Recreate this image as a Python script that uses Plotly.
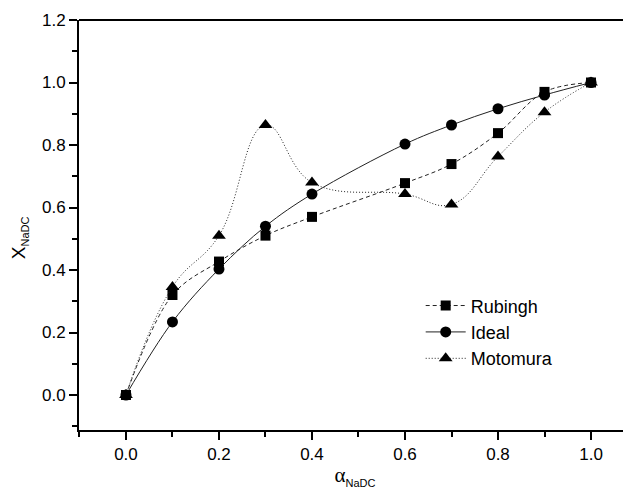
import plotly.graph_objects as go

alpha = [0.0, 0.1, 0.2, 0.3, 0.4, 0.6, 0.7, 0.8, 0.9, 1.0]
rubingh = [0.0, 0.32, 0.427, 0.51, 0.57, 0.678, 0.739, 0.838, 0.97, 1.0]
ideal = [0.0, 0.234, 0.403, 0.54, 0.643, 0.803, 0.864, 0.916, 0.96, 1.0]
motomura = [0.0, 0.346, 0.51, 0.864, 0.68, 0.643, 0.61, 0.763, 0.905, 1.0]

x_tickvals = [0.0, 0.2, 0.4, 0.6, 0.8, 1.0]
y_tickvals = [0.0, 0.2, 0.4, 0.6, 0.8, 1.0, 1.2]

FONT = "Liberation Sans, Arial, sans-serif"

fig = go.Figure()
fig.add_trace(go.Scatter(
    x=alpha, y=rubingh, name="Rubingh", mode="lines+markers",
    line=dict(color="#222", width=1, dash="4px,3px", shape="spline", smoothing=1.0),
    marker=dict(symbol="square", size=10, color="black"),
))
fig.add_trace(go.Scatter(
    x=alpha, y=ideal, name="Ideal", mode="lines+markers",
    line=dict(color="#222", width=1, shape="spline", smoothing=1.0),
    marker=dict(symbol="circle", size=11, color="black"),
))
fig.add_trace(go.Scatter(
    x=alpha, y=motomura, name="Motomura", mode="lines+markers",
    line=dict(color="#222", width=1, dash="1px,2px", shape="spline", smoothing=1.2),
    marker=dict(symbol="triangle-up", size=12, color="black"),
))

axis_common = dict(
    showgrid=False, zeroline=False, showline=True, linecolor="black", linewidth=2,
    ticks="outside", ticklen=8, tickwidth=2, tickcolor="black",
    tickfont=dict(family=FONT, size=17, color="black"),
    mirror=False, automargin=False,
)

fig.update_xaxes(
    range=[-0.101, 1.086], tickvals=x_tickvals, ticktext=[f"{v:.1f}" for v in x_tickvals],
    minor=dict(dtick=0.1, tick0=0, ticks="outside", ticklen=5, tickwidth=2, tickcolor="black"),
    title=dict(text="<span style=\"font-family:Liberation Serif\">α</span>"
                    "<sub><span style=\"font-size:11px\">NaDC</span></sub>",
               font=dict(family=FONT, size=21, color="black"), standoff=4),
    **axis_common,
)
fig.update_yaxes(
    range=[-0.112, 1.2], tickvals=y_tickvals, ticktext=[f"{v:.1f}" for v in y_tickvals],
    minor=dict(dtick=0.1, tick0=0, ticks="outside", ticklen=5, tickwidth=2, tickcolor="black"),
    **axis_common,
)

# y-axis title placed as a rotated annotation (sits a little below the axis centre)
fig.add_annotation(
    text="X<sub><span style=\"font-size:11px\">NaDC</span></sub>",
    xref="paper", yref="paper", x=-0.109, y=0.47, xanchor="center", yanchor="middle",
    textangle=-90, showarrow=False,
    font=dict(family=FONT, size=19, color="black"),
)

fig.add_shape(type="line", xref="paper", yref="paper", x0=0, x1=1, y0=1, y1=1,
              line=dict(color="black", width=2))

# page body has an 8px default margin, so the figure is offset by 8px
fig.update_layout(
    width=623, height=481,
    margin=dict(l=71, r=0, t=12, b=59),
    paper_bgcolor="white", plot_bgcolor="white",
    font=dict(family=FONT, color="black"),
    showlegend=True,
    legend=dict(x=0.619, y=0.348, xanchor="left", yanchor="top",
                bgcolor="rgba(0,0,0,0)", font=dict(family=FONT, size=18, color="black"),
                tracegroupgap=0, itemwidth=40),
)

fig.write_html("out.html")
